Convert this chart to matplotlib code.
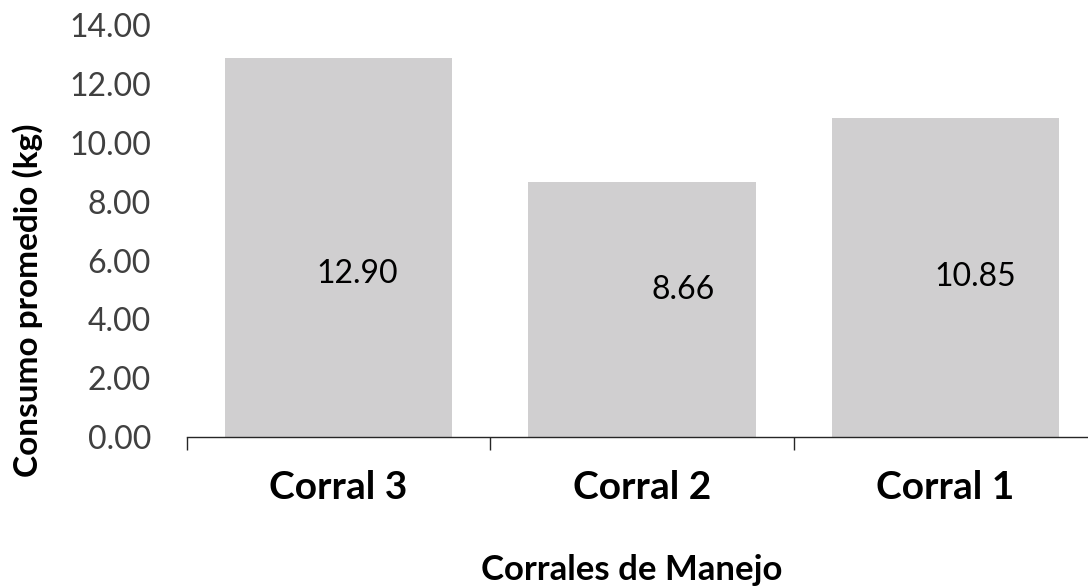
import matplotlib
matplotlib.use('Agg')
import matplotlib.pyplot as plt
from matplotlib.ticker import FormatStrFormatter

# average consumption per pen
corrales = ['Corral 3', 'Corral 2', 'Corral 1']
consumo = [12.90, 8.66, 10.85]

# label placement inside the bars (x shift in category units, y in kg)
label_dx = [0.06, 0.135, 0.10]
label_y = [5.53, 5.00, 5.44]

plt.rcParams['font.family'] = ['Lato', 'DejaVu Sans']

fig = plt.figure(figsize=(10.88, 5.87), dpi=100)
ax = fig.add_axes([187 / 1088, 150 / 587, 910 / 1088, 411.6 / 587])

x = range(len(corrales))
ax.bar(x, consumo, width=0.75, color='#d0cfd0', zorder=2)

for i, v in enumerate(consumo):
    ax.text(i + label_dx[i], label_y[i], '%.2f' % v, ha='center', va='center',
            fontsize=23, color='black')

ax.set_xlim(-0.5, 2.5)
ax.set_ylim(0, 14)
ax.set_yticks(range(0, 15, 2))
ax.yaxis.set_major_formatter(FormatStrFormatter('%.2f'))
ax.tick_params(axis='y', length=0, pad=26, labelsize=23, labelcolor='#404040')

ax.set_xticks(list(x))
ax.set_xticklabels(corrales, fontsize=28, fontweight='bold')
ax.set_xticks([-0.5, 0.5, 1.5, 2.5], minor=True)
ax.tick_params(axis='x', which='major', length=0, pad=24)
ax.tick_params(axis='x', which='minor', length=9.5, width=1, color='#262626', direction='out')

for s in ['top', 'right', 'left']:
    ax.spines[s].set_visible(False)
ax.spines['bottom'].set_color('#262626')
ax.spines['bottom'].set_linewidth(1)

ax.set_xlabel('Corrales de Manejo', fontsize=25, fontweight='bold')
ax.set_ylabel('Consumo promedio (kg)', fontsize=24, fontweight='bold')
ax.xaxis.set_label_coords((632 - 187) / 910, -(580 - 437) / 411.6)
ax.yaxis.set_label_coords(-(187 - 28) / 910, (437 - 300) / 411.6)
ax.xaxis.label.set_va('baseline')
ax.yaxis.label.set_va('center')

fig.savefig('out.png', dpi=100)
